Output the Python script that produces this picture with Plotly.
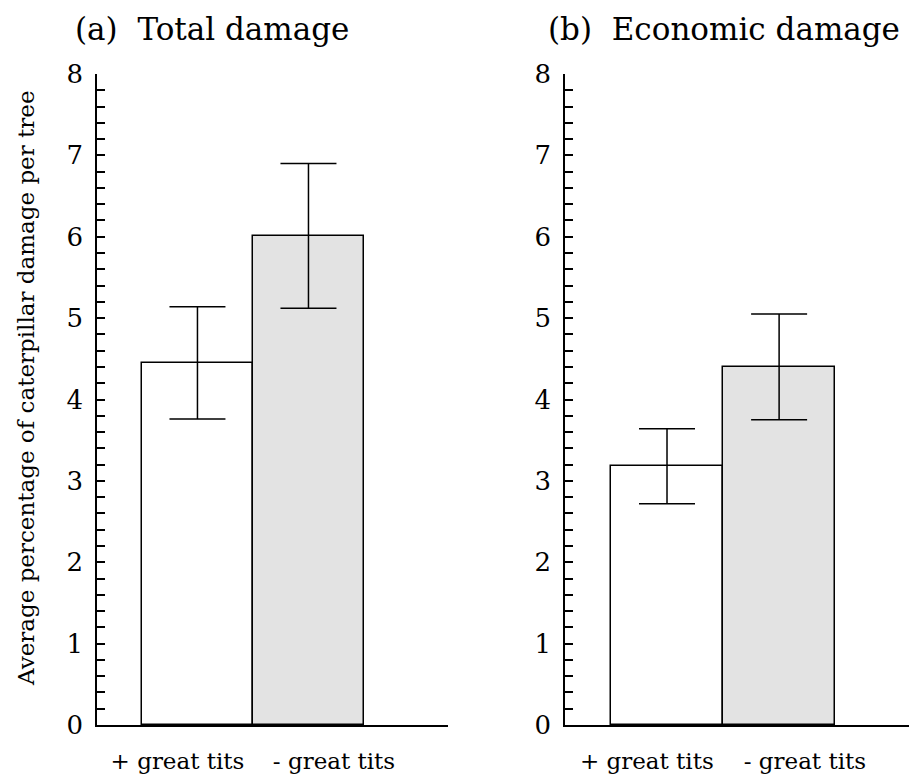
import plotly.graph_objects as go

categories = ["+ great tits", "- great tits"]
total_damage = [4.45, 6.01]
total_err = [0.69, 0.89]
economic_damage = [3.18, 4.40]
economic_err = [0.46, 0.65]
bar_colors = ["#ffffff", "#e3e3e3"]
titles = ["(a)  Total damage", "(b)  Economic damage"]
y_title = "Average percentage of caterpillar damage per tree"

FONT = "DejaVu Serif"
OFF = 8  # default body margin of the page
W, H = 917 - OFF, 778 - OFF


def px(x):
    return (x - OFF) / W


def py(y):
    return 1 - (y - OFF) / H


x_pos = [0, 1]

fig = go.Figure()
for vals, errs, xa, ya in [(total_damage, total_err, "x", "y"),
                           (economic_damage, economic_err, "x2", "y2")]:
    fig.add_trace(go.Bar(
        x=x_pos, y=vals, width=1.0,
        marker=dict(color=bar_colors, line=dict(color="black", width=1.5)),
        error_y=dict(type="data", array=errs, visible=True, color="black",
                     thickness=1.5, width=28),
        xaxis=xa, yaxis=ya, showlegend=False))

ydom = [py(725), py(74)]
common_y = dict(range=[0, 8], showline=True, linecolor="black", linewidth=1.5,
                ticks="inside", ticklen=8, tickwidth=1.5, tickcolor="black",
                dtick=1, tick0=0, showgrid=False, zeroline=False,
                tickfont=dict(family=FONT, size=26, color="black"),
                minor=dict(ticks="inside", ticklen=8, tickwidth=1.5,
                           tickcolor="black", dtick=0.2, showgrid=False),
                automargin=False, domain=ydom, ticklabelstandoff=7)
tickvals = [-0.18, 1.23]
common_x = dict(showline=True, linecolor="black", linewidth=1.5, ticks="",
                showgrid=False, zeroline=False, tickvals=tickvals,
                ticktext=categories, automargin=False, ticklabelstandoff=15,
                tickfont=dict(family=FONT, size=23, color="black"))

fig.update_layout(
    width=W, height=H, margin=dict(l=0, r=0, t=0, b=0),
    paper_bgcolor="white", plot_bgcolor="white", template="none",
    font=dict(family=FONT, color="black"),
    bargap=0,
    xaxis=dict(domain=[px(97), px(448)], range=[-0.905, 2.257], anchor="y", **common_x),
    yaxis=dict(anchor="x", **common_y),
    xaxis2=dict(domain=[px(565), 1.0], range=[-0.91, 2.23], anchor="y2", **common_x),
    yaxis2=dict(anchor="x2", **common_y),
    annotations=[
        dict(text=titles[0], x=px(73), y=py(29), xref="paper", yref="paper",
             xanchor="left", yanchor="middle", showarrow=False,
             font=dict(family=FONT, size=31, color="black")),
        dict(text=titles[1], x=px(546), y=py(29), xref="paper", yref="paper",
             xanchor="left", yanchor="middle", showarrow=False,
             font=dict(family=FONT, size=31, color="black")),
        dict(text=y_title, x=px(26), y=py(388), xref="paper", yref="paper",
             xanchor="center", yanchor="middle", textangle=-90, showarrow=False,
             font=dict(family=FONT, size=23, color="black")),
    ],
)

fig.write_html("out.html")
